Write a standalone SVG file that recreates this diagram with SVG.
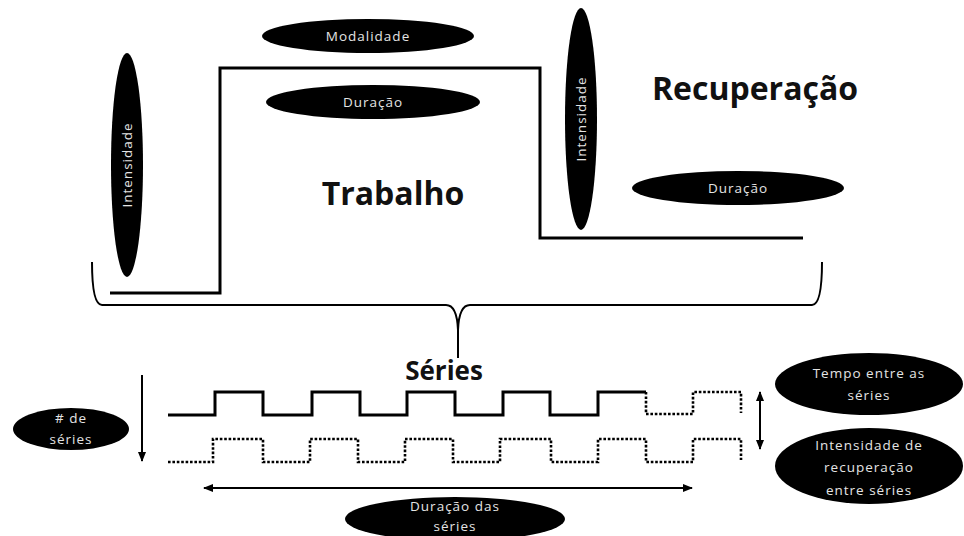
<svg xmlns="http://www.w3.org/2000/svg" width="964" height="536" viewBox="0 0 964 536">
<style>
.bg{fill:#fff}
.ell{fill:#000}
.lbl{font-family:"Open Sans","Liberation Sans",sans-serif;font-size:13.5px;fill:#e4e4e4;text-anchor:middle;letter-spacing:1px}
.big{font-family:"Open Sans","Liberation Sans",sans-serif;font-weight:bold;fill:#111;text-anchor:middle}
.line{fill:none;stroke:#000;stroke-width:3}
.thin{fill:none;stroke:#000;stroke-width:2}
.dot{fill:none;stroke:#000;stroke-width:2.6;stroke-dasharray:2.6 1.8}
.arr{fill:none;stroke:#000;stroke-width:2}
</style>
<defs>
<marker id="ah" viewBox="0 0 10 10" refX="9" refY="5" markerWidth="5" markerHeight="5" orient="auto-start-reverse">
<path d="M0,1 L10,5 L0,9 Z" fill="#000"/>
</marker>
</defs>
<rect class="bg" x="0" y="0" width="964" height="536"/>
<g id="connectors">
<path id="work-line" class="line" d="M110,293 H220 V68 H540 V238 H803"/>
<path id="brace" class="thin" d="M92,262 Q92,305 102,305 H446 Q457,305 458,330 V358 M458,330 Q459,305 470,305 H812 Q822,305 822,262"/>
<path id="wave-solid" class="line" d="M168,415 H215 V392 H263 V415 H312 V392 H360 V415 H407 V392 H455 V415 H503 V392 H550 V415 H598 V392 H646"/>
<path id="wave-top-dotted" class="dot" d="M646,392 V414 H693 V392 H741 V413"/>
<path id="wave-bottom-dotted" class="dot" d="M168,462 H213 V439 H263 V462 H310 V439 H358 V462 H405 V439 H453 V462 H500 V439 H551 V462 H598 V439 H646 V462 H693 V439 H741 V460"/>
<line id="arrow-series" class="arr" x1="142" y1="375" x2="142" y2="461" marker-end="url(#ah)"/>
<line id="arrow-duration" class="arr" x1="204" y1="488" x2="692" y2="488" marker-start="url(#ah)" marker-end="url(#ah)"/>
<line id="arrow-rest" class="arr" x1="760" y1="392" x2="760" y2="449" marker-start="url(#ah)" marker-end="url(#ah)"/>
</g>
<g id="trabalho"><text class="big" x="393" y="205" font-size="32">Trabalho</text></g>
<g id="recuperacao"><text class="big" x="755" y="100" font-size="32">Recuperação</text></g>
<g id="series"><text class="big" x="444" y="380" font-size="26">Séries</text></g>
<g id="modalidade"><ellipse class="ell" cx="368" cy="36" rx="106" ry="17"/><text class="lbl" x="368" y="41">Modalidade</text></g>
<g id="duracao-trabalho"><ellipse class="ell" cx="373" cy="102" rx="107" ry="17"/><text class="lbl" x="373" y="107">Duração</text></g>
<g id="intensidade-trabalho"><ellipse class="ell" cx="127" cy="165" rx="16" ry="112"/><text class="lbl" x="0" y="0" transform="translate(132,165) rotate(-90)">Intensidade</text></g>
<g id="intensidade-recuperacao"><ellipse class="ell" cx="581" cy="119" rx="16" ry="111"/><text class="lbl" x="0" y="0" transform="translate(586,119) rotate(-90)">Intensidade</text></g>
<g id="duracao-recuperacao"><ellipse class="ell" cx="738" cy="188" rx="106" ry="17"/><text class="lbl" x="738" y="193">Duração</text></g>
<g id="num-series"><ellipse class="ell" cx="71" cy="429" rx="58" ry="21"/><text class="lbl" x="71" y="423">#  de</text><text class="lbl" x="71" y="444">séries</text></g>
<g id="tempo-entre"><ellipse class="ell" cx="869" cy="384" rx="94" ry="31"/><text class="lbl" x="869" y="378">Tempo entre as</text><text class="lbl" x="869" y="400">séries</text></g>
<g id="intensidade-entre"><ellipse class="ell" cx="869" cy="466" rx="94" ry="38"/><text class="lbl" x="869" y="450">Intensidade de</text><text class="lbl" x="869" y="472">recuperação</text><text class="lbl" x="869" y="495">entre séries</text></g>
<g id="duracao-series"><ellipse class="ell" cx="455" cy="519" rx="110" ry="22"/><text class="lbl" x="455" y="511">Duração das</text><text class="lbl" x="455" y="531">séries</text></g>
</svg>
